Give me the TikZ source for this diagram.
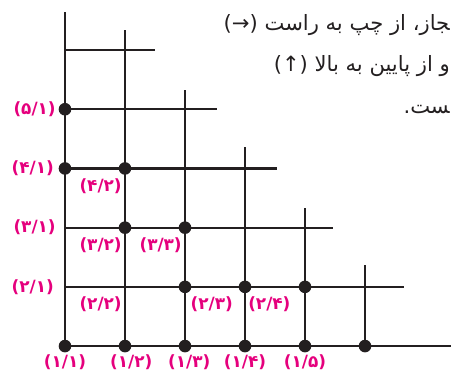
\documentclass[tikz,border=0pt]{standalone}
\usepackage{fontspec}
\usepackage{xcolor}
\usepackage{tikz}
\usetikzlibrary{positioning}
\TeXXeTstate=1
\newfontfamily\arabicfont[Script=Arabic]{DejaVu Sans}
\newfontfamily\numfont{DejaVu Sans}
\definecolor{gridink}{HTML}{231F20}
\definecolor{labelpink}{HTML}{E5007D}

\begin{document}
\begin{tikzpicture}[
    x=1cm, y=0.9867cm,
    gridline/.style={line width=1pt, color=gridink},
    dot/.style={circle, fill=gridink, inner sep=0pt, minimum size=0.21cm},
    pairlabel/.style={font=\numfont\bfseries\fontsize{8}{9}\selectfont, text=labelpink, inner sep=0.5pt},
    notetext/.style={font=\arabicfont\fontsize{10}{12}\selectfont, text=gridink, inner sep=0pt, anchor=east}
]
    % Frame of the picture
    \clip (-1.083,-0.49) rectangle (6.433,5.845);

    % Horizontal lines
    \draw[gridline] (0,0) -- (6.6,0);
    \draw[gridline] (0,1) -- (5.65,1);
    \draw[gridline] (0,2) -- (4.47,2);
    \draw[gridline] (0,3) -- (3.53,3);
    \draw[gridline] (0,4) -- (2.53,4);
    \draw[gridline] (0,5) -- (1.5,5);

    % Vertical lines
    \draw[gridline] (0,0) -- (0,5.64);
    \draw[gridline] (1,0) -- (1,5.34);
    \draw[gridline] (2,0) -- (2,4.32);
    \draw[gridline] (3,0) -- (3,3.36);
    \draw[gridline] (4,0) -- (4,2.33);
    \draw[gridline] (5,0) -- (5,1.37);

    % Dots
    \node[dot] (p11) at (0,0) {};
    \node[dot] (p12) at (1,0) {};
    \node[dot] (p13) at (2,0) {};
    \node[dot] (p14) at (3,0) {};
    \node[dot] (p15) at (4,0) {};
    \node[dot] (p16) at (5,0) {};
    \node[dot] (p23) at (2,1) {};
    \node[dot] (p24) at (3,1) {};
    \node[dot] (p25) at (4,1) {};
    \node[dot] (p32) at (1,2) {};
    \node[dot] (p33) at (2,2) {};
    \node[dot] (p41) at (0,3) {};
    \node[dot] (p42) at (1,3) {};
    \node[dot] (p51) at (0,4) {};

    % Bottom row labels
    \node[pairlabel, below=0pt of p11] (l11) {(۱/۱)};
    \node[pairlabel, below=0pt of p12, xshift=3pt] (l12) {(۱/۲)};
    \node[pairlabel, below=0pt of p13, xshift=2pt] (l13) {(۱/۳)};
    \node[pairlabel, below=0pt of p14] (l14) {(۱/۴)};
    \node[pairlabel, below=0pt of p15] (l15) {(۱/۵)};

    % Left column labels
    \node[pairlabel, anchor=east] (l21) at (-0.16,1) {(۲/۱)};
    \node[pairlabel, anchor=east] (l31) at (-0.13,2) {(۳/۱)};
    \node[pairlabel, anchor=east] (l41) at (-0.16,3) {(۴/۱)};
    \node[pairlabel, anchor=east] (l51) at (-0.13,4) {(۵/۱)};

    % Inner labels
    \node[pairlabel, anchor=north east] (l22) at (0.97,0.86) {(۲/۲)};
    \node[pairlabel, anchor=north west] (l23) at (2.07,0.86) {(۲/۳)};
    \node[pairlabel, anchor=north west] (l24) at (3.03,0.86) {(۲/۴)};
    \node[pairlabel, anchor=north east] (l32) at (0.97,1.86) {(۳/۲)};
    \node[pairlabel, anchor=north east] (l33) at (1.97,1.86) {(۳/۳)};
    \node[pairlabel, anchor=north east] (l42) at (0.97,2.86) {(۴/۲)};

    % Note text
    \node[notetext] (note1) at (6.42,5.42) {\beginR ‍جاز، از چپ به راست (→)\endR};
    \node[notetext] (note2) at (6.42,4.73) {\beginR و از پایین به بالا (↑)\endR};
    \node[notetext] (note3) at (6.42,4.0) {\beginR ‍ست.\endR};
\end{tikzpicture}
\end{document}
